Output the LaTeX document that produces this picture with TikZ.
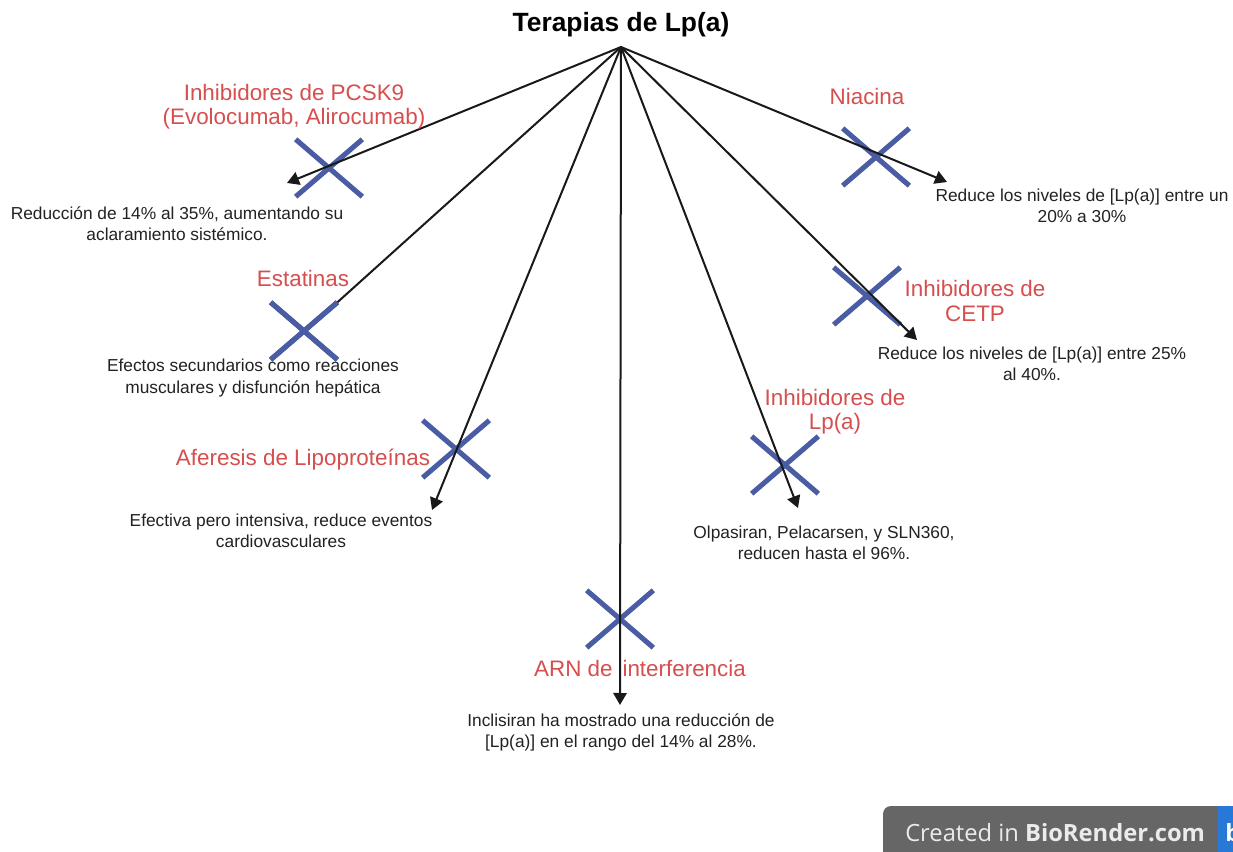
\documentclass[tikz,border=0pt]{standalone}
\usepackage{fontspec}
\setmainfont{Liberation Sans}
\newfontfamily\badgefont{Open Sans}
\usetikzlibrary{arrows.meta,shapes.misc}
\definecolor{xblue}{RGB}{74,92,163}
\definecolor{lblred}{RGB}{214,78,78}
\definecolor{txtgray}{RGB}{34,34,34}
\definecolor{badgegray}{RGB}{102,102,102}
\definecolor{badgeblue}{RGB}{40,120,215}
\definecolor{badgetext}{RGB}{235,235,235}
\begin{document}
\begin{tikzpicture}[x=0.75pt,y=-0.75pt,
  titlestyle/.style={font=\fontsize{19.8}{23}\selectfont\bfseries, text=black, inner sep=0},
  lbl/.style={font=\fontsize{16.8}{18.3}\selectfont, text=lblred, align=center, inner sep=0},
  desc/.style={font=\fontsize{13}{15.8}\selectfont, text=txtgray, align=center, inner sep=0},
  xmark/.style={cross out, draw=xblue, line width=3.8pt, minimum width=50pt, minimum height=43pt, inner sep=0, outer sep=0},
  arr/.style={draw=black!90, line width=1.5pt, -{Triangle[length=9pt,width=10pt]}},
  plainline/.style={draw=black!90, line width=1.5pt}]
\useasboundingbox (0,0) rectangle (1233,852);
\fill[white] (0,0) rectangle (1233,852);

% title and hub
\node[titlestyle] (title) at (621,25) {Terapias de Lp(a)};
\coordinate (hub) at (621,47);

% X marks
\node[xmark] (xpcsk) at (329,168) {};
\node[xmark] (xstat) at (304,331) {};
\node[xmark] (xafer) at (456,449) {};
\node[xmark] (xarn)  at (620,619) {};
\node[xmark] (xlpa)  at (785,465) {};
\node[xmark] (xcetp) at (867,296) {};
\node[xmark] (xnia)  at (876,157) {};

% arrow tips
\coordinate (tpcsk) at (287,183);
\coordinate (tafer) at (432,510);
\coordinate (tarn)  at (620,705);
\coordinate (tlpa)  at (798,508);
\coordinate (tcetp) at (917,340);
\coordinate (tnia)  at (947,182);

% connectors
\draw[arr] (hub) -- (tpcsk);
\draw[arr] (hub) -- (tafer);
\draw[arr] (hub) -- (tarn);
\draw[arr] (hub) -- (tlpa);
\draw[arr] (hub) -- (tcetp);
\draw[arr] (hub) -- (tnia);
\draw[plainline] (hub) -- (xstat.north east);
\node[xmark] at (xstat) {};

% red labels
\node[lbl] (lpcsk) at (294,107) {Inhibidores de PCSK9\\(Evolocumab, Alirocumab)};
\node[lbl] (lstat) at (303,278) {Estatinas};
\node[lbl] (lafer) at (303,460) {Aferesis de Lipoproteínas};
\node[lbl] (larn)  at (640,668) {ARN de \,interferencia};
\node[lbl] (llpa)  at (835,412) {Inhibidores de\\Lp(a)};
\node[lbl] (lcetp) at (975,301) {Inhibidores de\\CETP};
\node[lbl] (lnia)  at (867,96) {Niacina};

% descriptions
\node[desc] (dpcsk) at (177,224) {Reducción de 14\% al 35\%, aumentando su\\aclaramiento sistémico.};
\node[desc] (dstat) at (253,378) {Efectos secundarios como reacciones\\musculares y disfunción hepática};
\node[desc] (dafer) at (281,531) {Efectiva pero intensiva, reduce eventos\\cardiovasculares};
\node[desc] (darn)  at (621,732) {Inclisiran ha mostrado una reducción de\\{[Lp(a)]} en el rango del 14\% al 28\%.};
\node[desc] (dlpa)  at (824,543) {Olpasiran, Pelacarsen, y SLN360,\\reducen hasta el 96\%.};
\node[desc] (dcetp) at (1032,364) {Reduce los niveles de [Lp(a)] entre 25\%\\al 40\%.};
\node[desc] (dnia)  at (1082,206) {Reduce los niveles de [Lp(a)] entre un\\20\% a 30\%};

% BioRender badge
\begin{scope}
\clip (0,0) rectangle (1233,852);
\fill[badgegray, rounded corners=6pt] (883,806) rectangle (1260,880);
\fill[badgeblue] (1218,806) rectangle (1260,880);
\node[font=\badgefont\fontsize{17.8}{20}\selectfont, text=badgetext, anchor=west, inner sep=0] (badge) at (905,833) {Created in \textbf{BioRender.com}};
\node[font=\badgefont\fontsize{17.8}{20}\selectfont\bfseries, text=white, anchor=west, inner sep=0] (badgeb) at (1225,833) {b};
\end{scope}
\end{tikzpicture}
\end{document}
